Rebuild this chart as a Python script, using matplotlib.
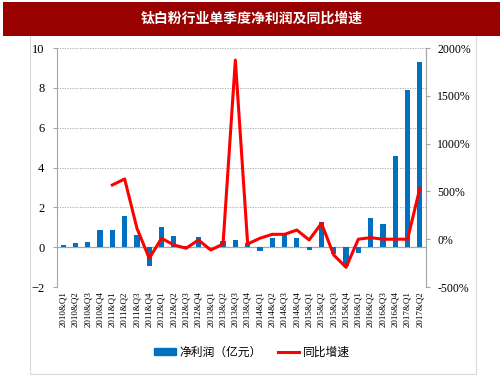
import matplotlib.pyplot as plt
import matplotlib.patches as mpatches
from matplotlib.lines import Line2D
import numpy as np

plt.rcParams['font.family'] = ['Noto Sans CJK SC', 'DejaVu Sans']

# quarters 2010Q1 .. 2017Q2
quarters = []
for yr in range(2010, 2018):
    for q in range(1, 5):
        if yr == 2017 and q > 2:
            break
        quarters.append('%d&Q%d' % (yr, q))

profit = [0.12, 0.2, 0.27, 0.87, 0.87, 1.54, 0.62, -0.94,
          0.99, 0.55, 0.05, 0.52, 0.03, 0.32, 0.37, 0.22,
          -0.18, 0.45, 0.59, 0.47, -0.13, 1.27, -0.35, -0.97,
          -0.3, 1.46, 1.16, 4.57, 7.89, 9.3]

growth = [np.nan, np.nan, np.nan, np.nan, 567, 630, 114, -200,
          9, -60, -95, -8, -113, -50, 1874, -50,
          10, 51, 51, 96, -8, 166, -165, -294,
          0, 16, 0, 0, 0, 532]

fig = plt.figure(figsize=(5.03, 3.78), dpi=100)

# frame and title banner
fig.patches.append(mpatches.Rectangle((30 / 503, 0.01), 446 / 503, 0.9, transform=fig.transFigure,
                                      fill=False, edgecolor='#d9d9d9', linewidth=0.8))
fig.patches.append(mpatches.Rectangle((3 / 503, 1 - 36 / 378), 497 / 503, 34 / 378,
                                      transform=fig.transFigure, facecolor='#990000', edgecolor='none'))
fig.text(0.5, 1 - 19 / 378, '钛白粉行业单季度净利润及同比增速', color='white',
         fontsize=10, fontweight='bold', ha='center', va='center')

ax = fig.add_axes([57 / 503, 1 - 287 / 378, 369 / 503, 239 / 378])
x = np.arange(len(quarters))
ax.bar(x, profit, width=0.42, color='#0070C0', zorder=3)
ax.set_xlim(-0.5, len(quarters) - 0.5)
ax.set_ylim(-2, 10)
ax.set_yticks(range(-2, 11, 2))
for yv in [-2, 2, 4, 6, 8, 10]:
    ax.axhline(yv, color='#a6a6a6', linestyle=(0, (1.5, 1.5)), linewidth=0.6, zorder=1)
ax.axhline(0, color='#a6a6a6', linewidth=0.9, zorder=2)
ax.set_xticks(x)
ax.set_xticklabels(quarters, rotation=90, family='Liberation Serif', fontsize=6.5)
ax.tick_params(axis='x', length=0, pad=3)
ax.tick_params(axis='y', labelsize=9, length=3, color='#a6a6a6', pad=6)
for t in ax.get_yticklabels():
    t.set_family('Liberation Serif')
for s in ['top', 'bottom']:
    ax.spines[s].set_visible(False)
ax.spines['left'].set_color('#a6a6a6')
ax.spines['right'].set_color('#a6a6a6')

ax2 = ax.twinx()
ax2.plot(x, growth, color='#FF0000', linewidth=2.2, zorder=4)
ax2.set_ylim(-500, 2000)
ax2.set_yticks(range(-500, 2001, 500))
ax2.set_yticklabels(['%d%%' % v for v in range(-500, 2001, 500)], family='Liberation Serif')
ax2.tick_params(axis='y', labelsize=8.5, length=3, color='#a6a6a6', pad=5)
for s in ['top', 'bottom', 'left']:
    ax2.spines[s].set_visible(False)
ax2.spines['right'].set_color('#a6a6a6')

handles = [mpatches.Patch(color='#0070C0'), Line2D([0], [0], color='#FF0000', linewidth=2.2)]
fig.legend(handles, ['净利润（亿元）', '同比增速'], loc='center', bbox_to_anchor=(252 / 503, 1 - 352 / 378),
           ncol=2, frameon=False, fontsize=8.5, handlelength=1.8, handleheight=0.6,
           handletextpad=0.3, columnspacing=1.4)

fig.savefig('out.png', dpi=100)
